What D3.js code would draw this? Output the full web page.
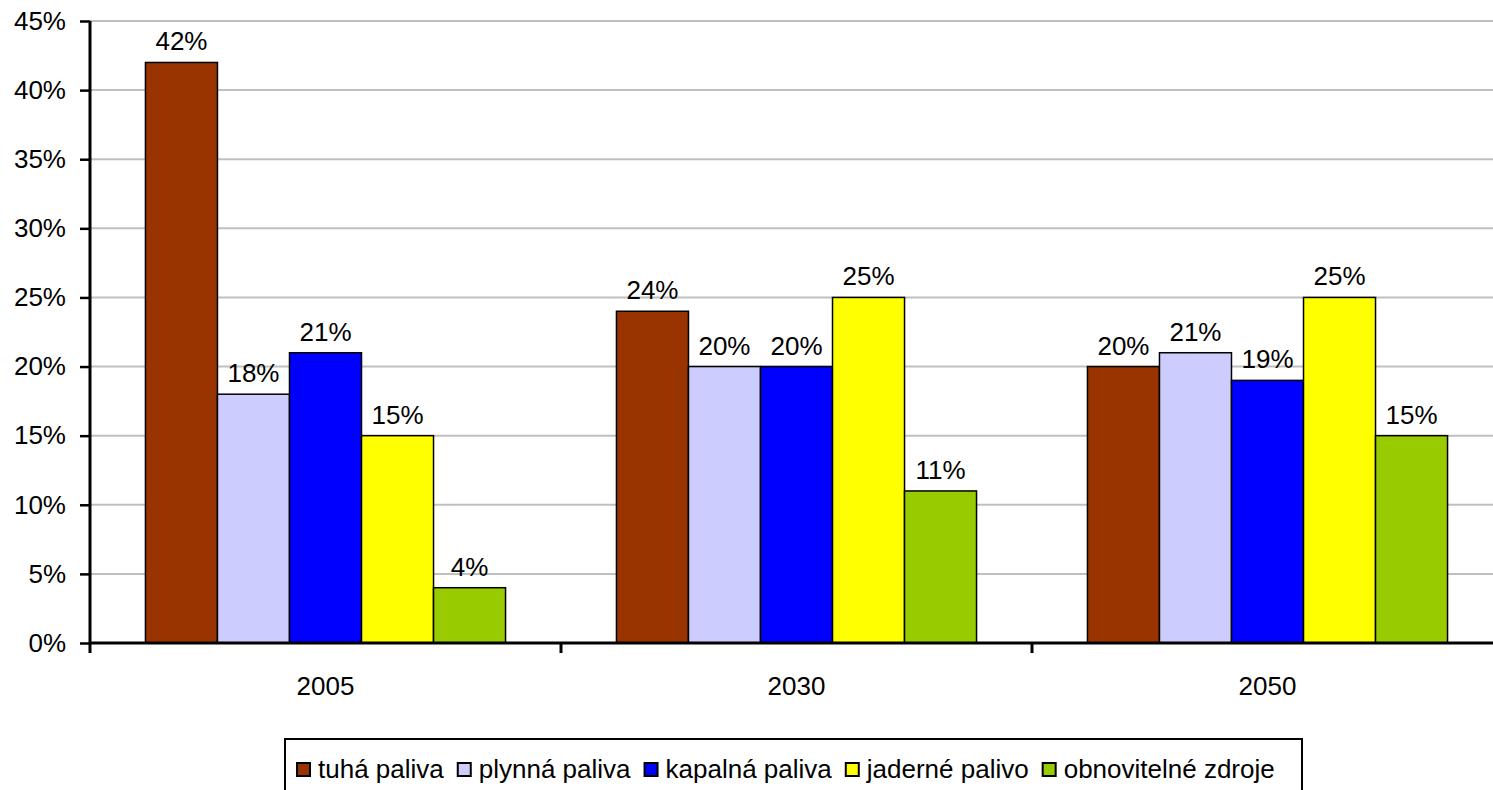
<!DOCTYPE html>
<html>
<head>
<meta charset="utf-8">
<script src="https://cdn.jsdelivr.net/npm/d3@7"></script>
<style>
  body { margin: 0; background: #fff; }
  text { font-family: "Liberation Sans", Arial, sans-serif; }
</style>
</head>
<body>
<div id="chart"></div>
<script>
// data
const years = ["2005", "2030", "2050"];
const series = ["tuhá paliva", "plynná paliva", "kapalná paliva", "jaderné palivo", "obnovitelné zdroje"];
const colors = ["#993300", "#ccccff", "#0000ff", "#ffff00", "#99cc00"];
const values = [
  [42, 18, 21, 15, 4],
  [24, 20, 20, 25, 11],
  [20, 21, 19, 25, 15]
];
const yTicks = [0, 5, 10, 15, 20, 25, 30, 35, 40, 45];

const width = 1493, height = 790;
const margin = { left: 90, right: -10, top: 21, bottom: 147 };

const svg = d3.select("#chart").append("svg")
  .attr("width", width)
  .attr("height", height);

const x0 = d3.scaleBand()
  .domain(years)
  .range([margin.left, width - margin.right])
  .paddingInner(0)
  .paddingOuter(0);

const x1 = d3.scaleBand()
  .domain(series)
  .range([0, x0.bandwidth()])
  .paddingInner(0)
  .paddingOuter(0.77);

const y = d3.scaleLinear()
  .domain([0, 45])
  .range([height - margin.bottom, margin.top]);

// gridlines
svg.append("g")
  .selectAll("line")
  .data(yTicks)
  .join("line")
  .attr("x1", margin.left)
  .attr("x2", width - margin.right)
  .attr("y1", d => y(d))
  .attr("y2", d => y(d))
  .attr("stroke", "#c0c0c0")
  .attr("stroke-width", 2);

// bars
const groups = svg.append("g")
  .selectAll("g")
  .data(values)
  .join("g")
  .attr("transform", (d, i) => `translate(${x0(years[i])},0)`);

groups.selectAll("rect")
  .data(d => d.map((v, j) => ({ v, j })))
  .join("rect")
  .attr("x", d => x1(series[d.j]))
  .attr("width", x1.bandwidth())
  .attr("y", d => y(d.v))
  .attr("height", d => y(0) - y(d.v))
  .attr("fill", d => colors[d.j])
  .attr("stroke", "#000")
  .attr("stroke-width", 1.5);

groups.selectAll("text")
  .data(d => d.map((v, j) => ({ v, j })))
  .join("text")
  .attr("x", d => x1(series[d.j]) + x1.bandwidth() / 2)
  .attr("y", d => y(d.v) - 12)
  .attr("text-anchor", "middle")
  .attr("font-size", 26)
  .text(d => d.v + "%");

// y axis
const yAxis = svg.append("g")
  .attr("transform", `translate(${margin.left},0)`)
  .call(d3.axisLeft(y).tickValues(yTicks).tickFormat(d => d + "%").tickSize(10).tickPadding(14));
yAxis.select(".domain").attr("stroke-width", 3).attr("d", `M0,${y(45)}V${y(0) + 10}`);
yAxis.selectAll(".tick line").attr("stroke-width", 2.5);
yAxis.selectAll(".tick text").attr("font-size", 26).attr("fill", "#000");

// x axis
const xAxis = svg.append("g")
  .attr("transform", `translate(0,${y(0)})`)
  .call(d3.axisBottom(x0).tickSize(0).tickPadding(34));
xAxis.select(".domain").attr("stroke-width", 3).attr("d", `M${margin.left},0H${width}`);
xAxis.selectAll(".tick text").attr("font-size", 26).attr("fill", "#000");
svg.append("g")
  .selectAll("line")
  .data(years.slice(1))
  .join("line")
  .attr("x1", d => x0(d))
  .attr("x2", d => x0(d))
  .attr("y1", y(0))
  .attr("y2", y(0) + 10)
  .attr("stroke", "#000")
  .attr("stroke-width", 3);

// legend
const legend = svg.append("g");
legend.append("rect")
  .attr("x", 285)
  .attr("y", 739)
  .attr("width", 1017)
  .attr("height", 60)
  .attr("fill", "#fff")
  .attr("stroke", "#000")
  .attr("stroke-width", 2);

let lx = 297;
series.forEach((s, i) => {
  legend.append("rect")
    .attr("x", lx)
    .attr("y", 763)
    .attr("width", 13)
    .attr("height", 13)
    .attr("fill", colors[i])
    .attr("stroke", "#000")
    .attr("stroke-width", 2);
  const t = legend.append("text")
    .attr("x", lx + 21)
    .attr("y", 778)
    .attr("font-size", 26)
    .text(s);
  lx += 21 + t.node().getComputedTextLength() + 14;
});
</script>
</body>
</html>
